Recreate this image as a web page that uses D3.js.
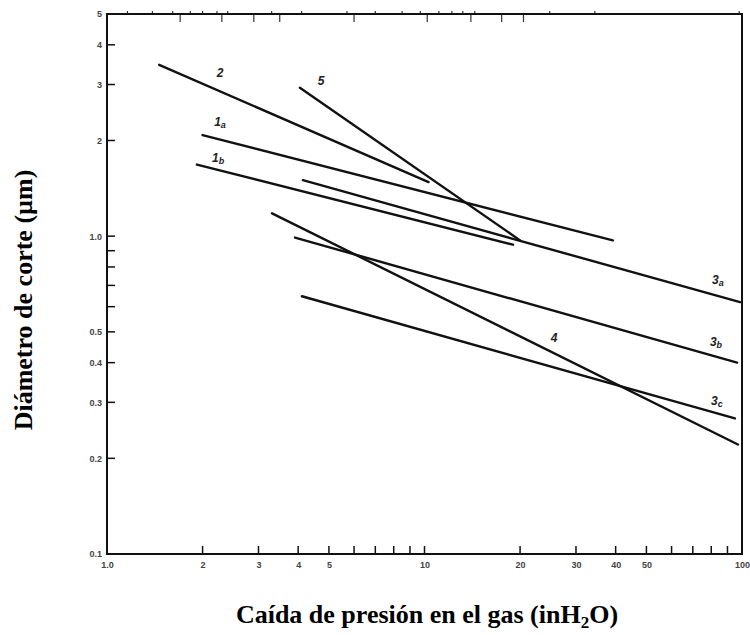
<!DOCTYPE html>
<html>
<head>
<meta charset="utf-8">
<script src="https://cdn.jsdelivr.net/npm/d3@7"></script>
<style>
  body { margin: 0; background: #fff; }
  .tick text { font-family: "Liberation Sans", Arial, sans-serif; font-size: 9px; font-weight: bold; fill: #444; }
  .curve-label { font-family: "Liberation Sans", Arial, sans-serif; font-size: 12px; font-weight: bold; font-style: italic; fill: #222; }
  .axis-title { font-family: "Liberation Serif", "Times New Roman", serif; font-size: 26px; font-weight: bold; fill: #000; }
</style>
</head>
<body>
<div id="container"></div>
<script>
/* CONSTANTS AND GLOBALS */
const width = 750,
  height = 635;

/* DATA */
// each curve: [x start, y start], [x end, y end] in (inH2O, µm)
const curveNames = ["2", "1a", "1b", "5", "3a", "3b", "3c", "4"];
const curveStart = [[1.46, 3.46], [2.0, 2.08], [1.92, 1.68], [4.05, 2.93], [4.14, 1.50], [3.91, 0.99], [4.11, 0.647], [3.31, 1.18]];
const curveEnd = [[10.3, 1.48], [39.2, 0.97], [19.0, 0.94], [20.0, 0.97], [98.6, 0.62], [96.5, 0.40], [95.0, 0.267], [97.1, 0.221]];
const labelPos = [[2.27, 3.27], [2.27, 2.29], [2.24, 1.76], [4.72, 3.08], [84, 0.727], [82.8, 0.466], [83.4, 0.304], [25.6, 0.48]];

const xTicks = [2, 3, 4, 5, 6, 7, 8, 9, 10, 20, 30, 40, 50, 60, 70, 80, 90, 100];
const xTickLabels = {1: "1.0", 2: "2", 3: "3", 4: "4", 5: "5", 10: "10", 20: "20", 30: "30", 40: "40", 50: "50", 100: "100"};
const yTicks = [0.2, 0.3, 0.4, 0.5, 0.6, 0.7, 0.8, 0.9, 1, 2, 3, 4, 5];
const yTickLabels = {0.1: "0.1", 0.2: "0.2", 0.3: "0.3", 0.4: "0.4", 0.5: "0.5", 1: "1.0", 2: "2", 3: "3", 4: "4", 5: "5"};

// scanned top border ticks
const topTicksDown = [1.7, 2.3, 2.9, 3.5, 6, 10.2, 14, 17.5, 20.5];
const topTicksUp = [1.16, 1.39, 1.61, 1.83, 2.0, 2.22, 2.4, 3.3, 4.1, 5.7, 7.0, 8.5, 9.7, 11.1, 12.2, 13.2, 14.4, 24.8, 34.4, 98];

/* SCALES */
const xScale = d3.scaleLog()
  .domain([1, 100])
  .range([107, 742]);

const yScale = d3.scaleLog()
  .domain([0.1, 5])
  .range([554, 14]);

const svg = d3.select("#container")
  .append("svg")
  .attr("width", width)
  .attr("height", height)
  .style("background-color", "#fff");

/* AXES */
const xAxis = svg.append("g")
  .attr("transform", `translate(0, ${yScale(0.1)})`)
  .call(d3.axisBottom(xScale)
    .tickValues([1].concat(xTicks))
    .tickSize(0)
    .tickPadding(8)
    .tickFormat(d => xTickLabels[d] || ""));
xAxis.select(".domain").remove();

// inward ticks along the bottom
svg.append("g")
  .selectAll("line")
  .data(xTicks)
  .join("line")
  .attr("x1", d => xScale(d))
  .attr("x2", d => xScale(d))
  .attr("y1", yScale(0.1))
  .attr("y2", yScale(0.1) - 8)
  .attr("stroke", "#111")
  .attr("stroke-width", 1.5);

const yAxis = svg.append("g")
  .attr("transform", `translate(${xScale(1)}, 0)`)
  .call(d3.axisLeft(yScale)
    .tickValues([0.1].concat(yTicks))
    .tickSize(0)
    .tickPadding(5)
    .tickFormat(d => yTickLabels[d] || ""));
yAxis.select(".domain").remove();

svg.append("g")
  .selectAll("line")
  .data(yTicks)
  .join("line")
  .attr("x1", xScale(1))
  .attr("x2", xScale(1) + 8)
  .attr("y1", d => yScale(d))
  .attr("y2", d => yScale(d))
  .attr("stroke", "#111")
  .attr("stroke-width", 1.5);

// top border ticks
svg.append("g")
  .selectAll("line")
  .data(topTicksDown)
  .join("line")
  .attr("x1", d => xScale(d))
  .attr("x2", d => xScale(d))
  .attr("y1", yScale(5))
  .attr("y2", yScale(5) + 8)
  .attr("stroke", "#333")
  .attr("stroke-width", 1.2);

svg.append("g")
  .selectAll("line")
  .data(topTicksUp)
  .join("line")
  .attr("x1", d => xScale(d))
  .attr("x2", d => xScale(d))
  .attr("y1", yScale(5))
  .attr("y2", yScale(5) - 3)
  .attr("stroke", "#333")
  .attr("stroke-width", 1.2);

// frame
svg.append("rect")
  .attr("x", xScale(1))
  .attr("y", yScale(5))
  .attr("width", xScale(100) - xScale(1))
  .attr("height", yScale(0.1) - yScale(5))
  .attr("fill", "none")
  .attr("stroke", "#111")
  .attr("stroke-width", 2);

/* CURVES */
svg.append("g")
  .selectAll("line")
  .data(curveNames)
  .join("line")
  .attr("x1", (d, i) => xScale(curveStart[i][0]))
  .attr("y1", (d, i) => yScale(curveStart[i][1]))
  .attr("x2", (d, i) => xScale(curveEnd[i][0]))
  .attr("y2", (d, i) => yScale(curveEnd[i][1]))
  .attr("stroke", "#111")
  .attr("stroke-width", 2.4)
  .attr("stroke-linecap", "round");

const labels = svg.append("g")
  .selectAll("text")
  .data(curveNames)
  .join("text")
  .attr("class", "curve-label")
  .attr("x", (d, i) => xScale(labelPos[i][0]))
  .attr("y", (d, i) => yScale(labelPos[i][1]))
  .attr("text-anchor", "middle")
  .attr("dy", "0.35em");

labels.append("tspan").text(d => d[0]);
labels.append("tspan")
  .attr("font-size", "9px")
  .attr("dy", "2")
  .text(d => d.slice(1));

/* TITLES */
const xTitle = svg.append("text")
  .attr("class", "axis-title")
  .attr("x", 427)
  .attr("y", 623)
  .attr("text-anchor", "middle");
xTitle.append("tspan").text("Caída de presión en el gas (inH");
xTitle.append("tspan").attr("font-size", "17px").attr("dy", "5").text("2");
xTitle.append("tspan").attr("dy", "-5").text("O)");

svg.append("text")
  .attr("class", "axis-title")
  .attr("transform", `translate(32, 300) rotate(-90)`)
  .attr("text-anchor", "middle")
  .text("Diámetro de corte (µm)");
</script>
</body>
</html>
